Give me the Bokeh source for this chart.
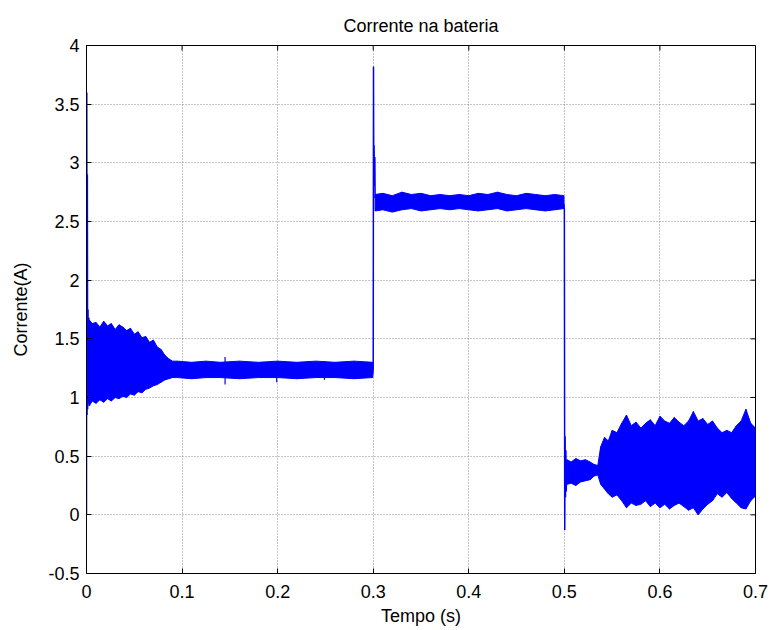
import math
from bokeh.plotting import figure
from bokeh.models import FixedTicker, Range1d
from bokeh.embed import file_html
from bokeh.resources import INLINE

# ---------------- data ----------------
title_text = "Corrente na bateria"
x_label = "Tempo (s)"
y_label = "Corrente(A)"

x_ticks = [0, 0.1, 0.2, 0.3, 0.4, 0.5, 0.6, 0.7]
x_tick_labels = ["0", "0.1", "0.2", "0.3", "0.4", "0.5", "0.6", "0.7"]
y_ticks = [-0.5, 0, 0.5, 1, 1.5, 2, 2.5, 3, 3.5, 4]
y_tick_labels = ["-0.5", "0", "0.5", "1", "1.5", "2", "2.5", "3", "3.5", "4"]

# transients (line)
start_t = [0.0, 0.0003, 0.0006, 0.0009, 0.0012, 0.0016, 0.0020, 0.0025, 0.0030]
start_i = [0.0, 3.60, 0.85, 2.90, 0.90, 1.75, 0.95, 1.68, 0.93]

step1_t = [0.2995, 0.3000, 0.3003, 0.3006, 0.3009, 0.3013, 0.3017, 0.3020]
step1_i = [1.20, 1.25, 3.82, 2.80, 3.15, 2.85, 3.05, 2.70]

step2_t = [0.4995, 0.5000, 0.5004, 0.5008, 0.5012, 0.5016, 0.5020, 0.5025, 0.5030]
step2_i = [2.65, 2.60, -0.13, 0.67, 0.15, 0.55, 0.20, 0.47, 0.26]

# ripple envelope, segment 1 (0 - 0.3 s)
band1_t = [0.003, 0.006, 0.010, 0.014, 0.018, 0.022, 0.026, 0.030, 0.034, 0.038,
           0.042, 0.046, 0.050, 0.054, 0.058, 0.062, 0.066, 0.070, 0.074, 0.078,
           0.082, 0.086, 0.090, 0.095, 0.110, 0.125, 0.140, 0.160, 0.180, 0.200,
           0.220, 0.240, 0.260, 0.280, 0.2995]
band1_hi = [1.66, 1.63, 1.64, 1.60, 1.65, 1.61, 1.63, 1.58, 1.62, 1.60,
            1.57, 1.59, 1.54, 1.56, 1.51, 1.52, 1.47, 1.49, 1.43, 1.41,
            1.36, 1.33, 1.31, 1.31, 1.30, 1.31, 1.30, 1.31, 1.30, 1.31,
            1.30, 1.31, 1.30, 1.31, 1.30]
band1_lo = [0.93, 0.97, 0.95, 0.98, 0.96, 0.99, 0.97, 1.00, 0.99, 1.01,
            1.00, 1.03, 1.02, 1.05, 1.04, 1.07, 1.08, 1.10, 1.11, 1.13,
            1.15, 1.16, 1.17, 1.17, 1.16, 1.17, 1.17, 1.16, 1.17, 1.17,
            1.16, 1.17, 1.17, 1.16, 1.17]

# isolated ripple spikes in segment 1
spike_t = [0.145, 0.199, 0.249]
spike_lo = [1.11, 1.13, 1.15]
spike_hi = [1.345, 1.31, 1.31]

# segment 2 (0.3 - 0.5 s)
band2_t = [0.302, 0.31, 0.32, 0.33, 0.34, 0.35, 0.36, 0.37, 0.38, 0.39, 0.40,
           0.41, 0.42, 0.43, 0.44, 0.45, 0.46, 0.47, 0.48, 0.49, 0.4995]
band2_hi = [2.73, 2.74, 2.72, 2.75, 2.73, 2.74, 2.72, 2.73, 2.72, 2.73, 2.72,
            2.74, 2.73, 2.75, 2.73, 2.72, 2.74, 2.73, 2.72, 2.73, 2.72]
band2_lo = [2.59, 2.60, 2.58, 2.60, 2.61, 2.59, 2.60, 2.61, 2.60, 2.61, 2.60,
            2.59, 2.60, 2.61, 2.59, 2.60, 2.61, 2.60, 2.59, 2.60, 2.61]

# segment 3 (0.5 - 0.7 s)
band3_t = [0.503, 0.507, 0.512, 0.517, 0.522, 0.527, 0.531, 0.535, 0.538, 0.542,
           0.546, 0.550, 0.555, 0.560, 0.565, 0.570, 0.575, 0.580, 0.585, 0.590,
           0.595, 0.600, 0.605, 0.610, 0.615, 0.620, 0.625, 0.630, 0.635, 0.640,
           0.645, 0.650, 0.655, 0.660, 0.665, 0.670, 0.675, 0.680, 0.685, 0.690,
           0.695, 0.700]
band3_hi = [0.47, 0.45, 0.48, 0.46, 0.47, 0.45, 0.43, 0.42, 0.58, 0.66,
            0.63, 0.72, 0.70, 0.78, 0.85, 0.76, 0.79, 0.74, 0.78, 0.81,
            0.76, 0.84, 0.80, 0.78, 0.83, 0.79, 0.76, 0.80, 0.88, 0.80,
            0.82, 0.77, 0.80, 0.74, 0.70, 0.72, 0.70, 0.76, 0.80, 0.90,
            0.78, 0.74]
band3_lo = [0.26, 0.27, 0.25, 0.28, 0.29, 0.30, 0.33, 0.34, 0.26, 0.22,
            0.18, 0.15, 0.17, 0.12, 0.06, 0.10, 0.08, 0.09, 0.12, 0.07,
            0.10, 0.06, 0.09, 0.05, 0.08, 0.10, 0.07, 0.04, 0.06, 0.00,
            0.05, 0.09, 0.12, 0.18, 0.15, 0.19, 0.14, 0.10, 0.06, 0.05,
            0.12, 0.16]

# ---------------- figure ----------------
FONT = "Liberation Sans"
BLUE = "#0000FF"
FS = "18px"

x_min, x_max = x_ticks[0], x_ticks[-1]
y_min, y_max = y_ticks[0], y_ticks[-1]

p = figure(width=770, height=630, output_backend="svg", toolbar_location=None,
           x_range=Range1d(x_min, x_max), y_range=Range1d(y_min, y_max),
           min_border_left=86, min_border_right=15, min_border_top=45,
           min_border_bottom=57, background_fill_color="white",
           border_fill_color="white")

p.title.text = title_text
p.title.align = "center"
p.title.text_font = FONT
p.title.text_font_size = FS
p.title.text_font_style = "normal"
p.title.text_color = "black"
p.title.standoff = 20

p.outline_line_color = "black"
p.outline_line_width = 1

for ax, ticks, labels in ((p.xaxis[0], x_ticks, x_tick_labels),
                          (p.yaxis[0], y_ticks, y_tick_labels)):
    ax.ticker = FixedTicker(ticks=ticks)
    ax.major_label_overrides = {t: l for t, l in zip(ticks, labels)}
    ax.major_label_text_font = FONT
    ax.major_label_text_font_size = FS
    ax.major_label_text_color = "black"
    ax.major_tick_in = 5
    ax.major_tick_out = 0
    ax.minor_tick_line_color = None
    ax.axis_line_color = "black"
    ax.major_tick_line_color = "black"
    ax.axis_label_text_font = FONT
    ax.axis_label_text_font_size = FS
    ax.axis_label_text_font_style = "normal"
    ax.axis_label_text_color = "black"

p.xaxis[0].axis_label = x_label
p.yaxis[0].axis_label = y_label
p.xaxis[0].major_label_standoff = 11
p.xaxis[0].axis_label_standoff = 5
p.yaxis[0].major_label_standoff = 7
p.yaxis[0].axis_label_standoff = 14

p.xgrid.ticker = FixedTicker(ticks=x_ticks)
p.ygrid.ticker = FixedTicker(ticks=y_ticks)
for g in (p.xgrid[0], p.ygrid[0]):
    g.grid_line_color = "#8c8c8c"
    g.grid_line_dash = "1 2"
    g.grid_line_width = 1

# inward ticks on the top and right edges of the box
p.ray(x=x_ticks, y=[y_max] * len(x_ticks), length=5, length_units="screen",
      angle=-math.pi / 2, line_color="black", line_width=1)
p.ray(x=[x_max] * len(y_ticks), y=y_ticks, length=5, length_units="screen",
      angle=math.pi, line_color="black", line_width=1)

# ripple bands
for t, lo, hi in ((band1_t, band1_lo, band1_hi),
                  (band2_t, band2_lo, band2_hi),
                  (band3_t, band3_lo, band3_hi)):
    p.varea(x=t, y1=lo, y2=hi, fill_color=BLUE, fill_alpha=1)
    p.line(t, hi, line_color=BLUE, line_width=1)
    p.line(t, lo, line_color=BLUE, line_width=1)
    p.segment(x0=t, y0=lo, x1=t, y1=hi, line_color=BLUE, line_width=1.2)

p.segment(x0=spike_t, y0=spike_lo, x1=spike_t, y1=spike_hi,
          line_color=BLUE, line_width=1.2)

# transients
for t, i in ((start_t, start_i), (step1_t, step1_i), (step2_t, step2_i)):
    p.line(t, i, line_color=BLUE, line_width=1.5)

open("out.html", "w").write(file_html(p, INLINE))
